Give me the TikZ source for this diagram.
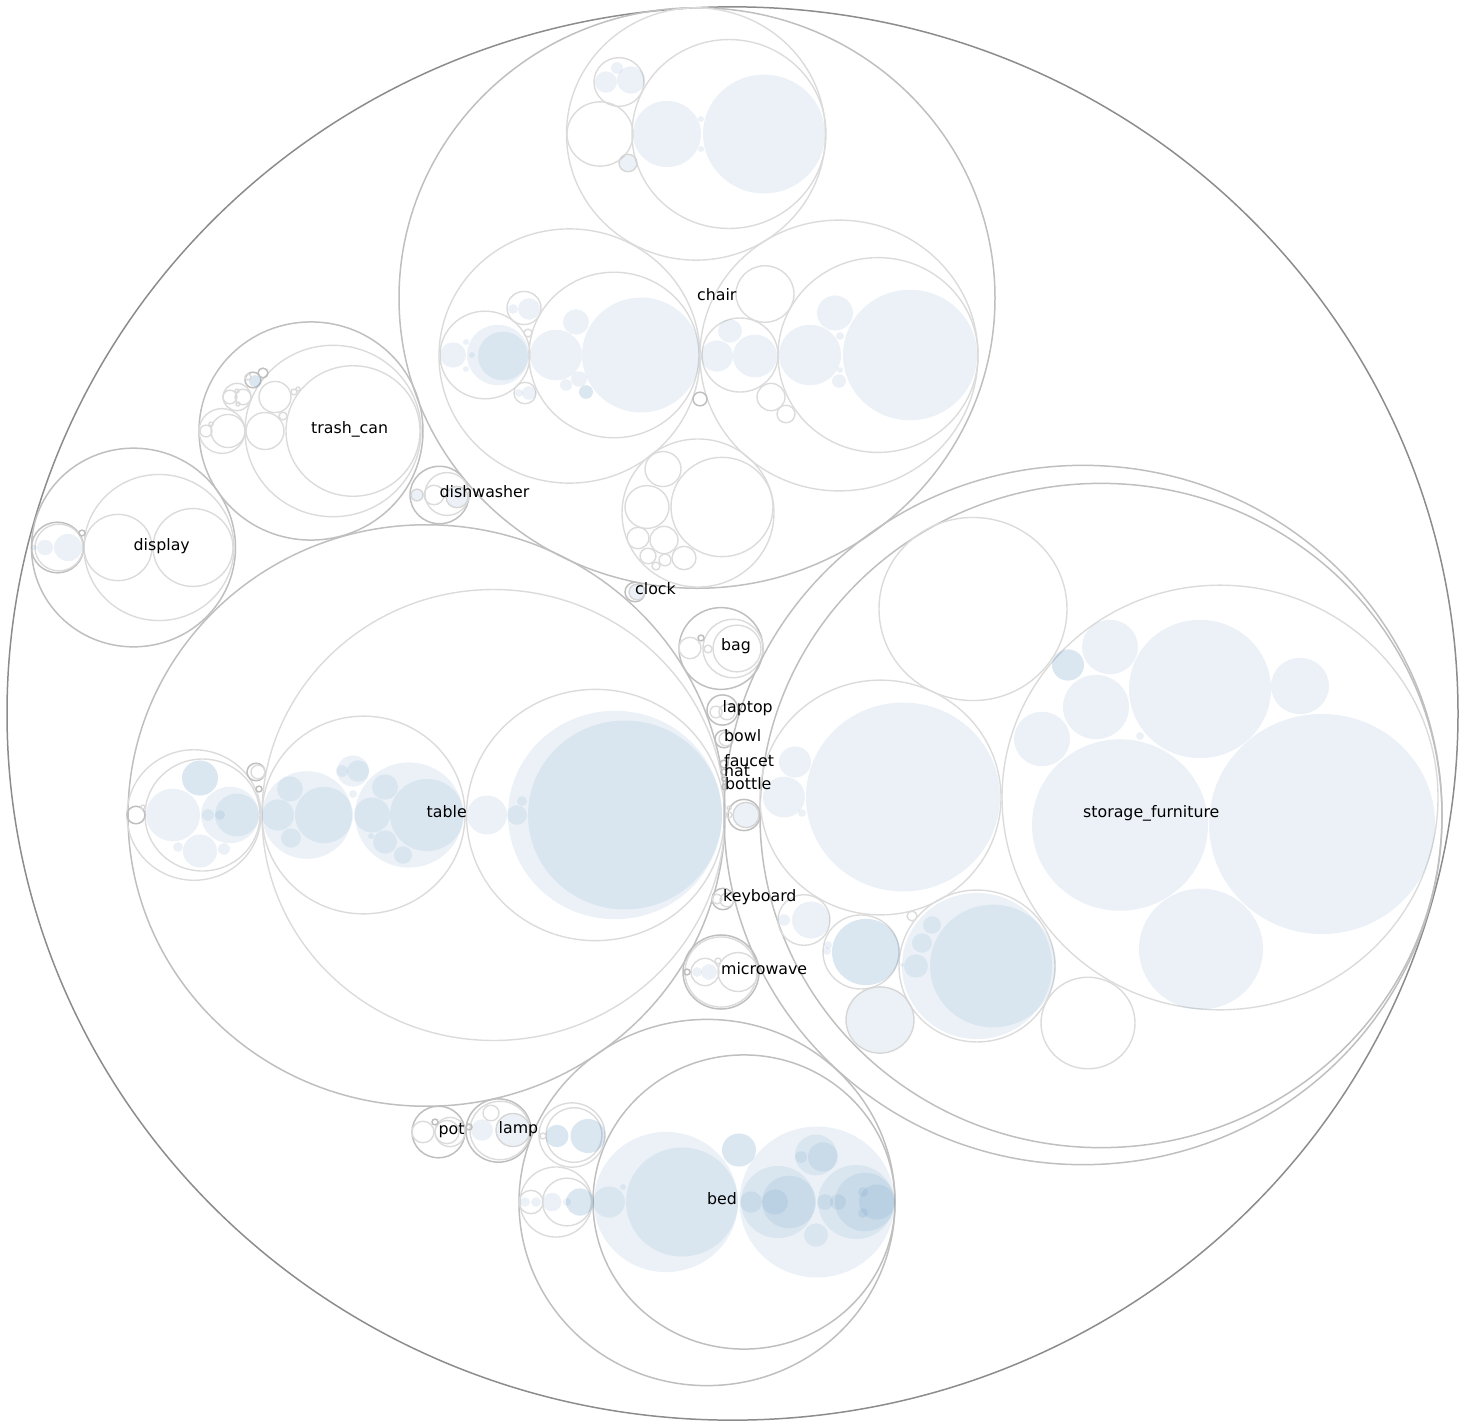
\documentclass[tikz,border=0pt]{standalone}
\usepackage{fontspec}
\setmainfont{DejaVu Sans}
\usepackage{tikz}
\definecolor{azulhoja}{RGB}{70,130,180}
\pgfdeclarelayer{circulos}
\pgfsetlayers{circulos,main}
\tikzstyle{raiz}=[draw=black!45,line width=1.5pt]
\tikzstyle{categoria}=[draw=black!25,line width=1.5pt]
\tikzstyle{nivel}=[draw=black!14,line width=1.4pt]
\tikzstyle{hoja}=[fill=azulhoja,fill opacity=0.11]
\tikzstyle{hojaoscura}=[fill=azulhoja,fill opacity=0.2]
\tikzstyle{hojaborde}=[fill=azulhoja,fill opacity=0.11,draw=black!16,line width=1.4pt]
\tikzstyle{etiqueta}=[anchor=base west,inner sep=0pt,font=\fontsize{15.8}{18}\selectfont,text=black]
\newcommand{\circulo}[4][nivel]{\path[style=#1] (#2,#3) ellipse [x radius=#4, y radius={0.974*#4}];}

\begin{document}
\begin{tikzpicture}[x={(1pt,0)},y={(0,-1pt)}]
		\useasboundingbox (0,0) rectangle (1465,1427);
		\begin{pgfonlayer}{circulos}
			\circulo[raiz]{732.5}{713.5}{725.5}
			\circulo[categoria]{697}{298}{298}
			\circulo{696}{134}{129.5}
			\circulo{729}{134}{97}
			\circulo[hoja]{764}{134}{61}
			\circulo[hoja]{667}{134}{34}
			\circulo[hoja]{701}{119}{3}
			\circulo[hoja]{701}{149}{3}
			\circulo{619}{82}{25}
			\circulo[hoja]{606}{82}{11}
			\circulo[hoja]{631}{80}{14}
			\circulo[hoja]{617}{68}{6}
			\circulo{600}{134}{33}
			\circulo[hojaborde]{628}{163}{9}
			\circulo{569.5}{356}{130.5}
			\circulo{614}{355}{85}
			\circulo[hoja]{641}{355}{59}
			\circulo[hoja]{556}{355}{26}
			\circulo[hoja]{576}{322}{13}
			\circulo[hojaoscura]{586}{392}{7}
			\circulo[hoja]{566}{385}{6}
			\circulo[hoja]{579}{379}{8}
			\circulo{485}{355}{45}
			\circulo[hoja]{498}{355}{31}
			\circulo[hoja]{503}{356}{25}
			\circulo[hoja]{453}{355}{13}
			\circulo[hoja]{466}{342}{3}
			\circulo[hoja]{466}{369}{3}
			\circulo[hoja]{472}{355}{3}
			\circulo{524}{308}{17}
			\circulo[hoja]{529}{309}{11}
			\circulo[hoja]{513}{309}{5}
			\circulo{528}{333}{4}
			\circulo{525}{393}{11}
			\circulo[hoja]{529}{393}{7}
			\circulo[hoja]{519}{393}{4}
			\circulo{839}{355.5}{139}
			\circulo{878}{355}{100}
			\circulo[hoja]{910}{355}{67}
			\circulo[hoja]{810}{355}{31}
			\circulo[hoja]{835}{313}{18}
			\circulo[hoja]{840}{336}{4}
			\circulo[hoja]{839}{381}{7}
			\circulo[hoja]{840}{370}{3}
			\circulo{740}{355}{38}
			\circulo[hoja]{755}{356}{22}
			\circulo[hoja]{717}{356}{16}
			\circulo[hoja]{730}{331}{12}
			\circulo{765}{294}{29}
			\circulo{771}{397}{14}
			\circulo{786}{414}{9}
			\circulo[categoria]{700}{399}{7}
			\circulo{698}{513}{76}
			\circulo{722}{507}{51}
			\circulo{663}{469}{18}
			\circulo{647}{507}{22}
			\circulo{638}{538}{11}
			\circulo{664}{540}{14}
			\circulo{684}{558}{12}
			\circulo{648}{556}{8}
			\circulo{665}{560}{6}
			\circulo{656}{566}{4}
			\circulo[categoria]{635}{592}{10}
			\circulo[hojaborde]{637}{592}{8}
			\circulo[categoria]{311}{431}{112}
			\circulo{333}{431}{88}
			\circulo{353}{431}{67}
			\circulo{265}{431}{19}
			\circulo{275}{397}{16}
			\circulo{283}{416}{4}
			\circulo{294}{392}{3}
			\circulo{298}{389}{2}
			\circulo{222}{431}{23}
			\circulo{228}{431}{17}
			\circulo{206}{431}{6}
			\circulo{211}{424}{2}
			\circulo{237}{397}{14}
			\circulo{230}{397}{7}
			\circulo{243}{397}{8}
			\circulo{237}{391}{2}
			\circulo{238}{404}{2}
			\circulo[categoria]{253}{380}{8}
			\circulo[hojaoscura]{255}{381}{6}
			\circulo{248}{377}{3}
			\circulo[categoria]{263}{373}{5}
			\circulo[categoria]{133.5}{547.5}{102}
			\circulo{159}{547.5}{75}
			\circulo{118}{547.5}{34}
			\circulo{193}{547.5}{40}
			\circulo[categoria]{57.5}{547.5}{26}
			\circulo{59}{547.5}{24}
			\circulo[hoja]{68}{547.5}{14}
			\circulo[hoja]{45}{547.5}{8}
			\circulo[hoja]{34}{547.5}{3}
			\circulo[categoria]{82}{533}{3}
			\circulo[categoria]{439.5}{495}{29.5}
			\circulo{447}{494}{22}
			\circulo{434}{495}{10}
			\circulo[hojaborde]{457}{497}{11}
			\circulo[hojaborde]{417}{495}{6}
			\circulo[categoria]{426.5}{815.5}{298.5}
			\circulo{493.5}{815}{231.5}
			\circulo{595.5}{815}{129}
			\circulo[hoja]{615}{815}{107}
			\circulo[hoja]{625}{815}{97}
			\circulo[hoja]{487}{815}{20}
			\circulo[hoja]{517}{815}{10}
			\circulo[hoja]{522}{801}{5}
			\circulo{363.5}{815}{101.5}
			\circulo[hoja]{307}{815}{45}
			\circulo[hoja]{324}{815}{29}
			\circulo[hoja]{290}{789}{13}
			\circulo[hoja]{278}{815}{16}
			\circulo[hoja]{291}{838}{10}
			\circulo[hoja]{409}{815}{54}
			\circulo[hoja]{427}{815}{37}
			\circulo[hoja]{385}{787}{13}
			\circulo[hoja]{372}{815}{18}
			\circulo[hoja]{385}{842}{12}
			\circulo[hoja]{403}{855}{9}
			\circulo[hoja]{371}{836}{3}
			\circulo[hoja]{353}{771}{16}
			\circulo[hoja]{358}{771}{11}
			\circulo[hoja]{342}{771}{6}
			\circulo[hoja]{353}{794}{4}
			\circulo{194}{815}{67}
			\circulo{202.5}{815}{57.5}
			\circulo[hoja]{173}{815}{27}
			\circulo[hojaoscura]{200}{778}{18}
			\circulo[hoja]{230}{815}{29}
			\circulo[hoja]{237}{815}{22}
			\circulo[hoja]{208}{815}{6}
			\circulo[hoja]{200}{851}{17}
			\circulo[hoja]{178}{847}{5}
			\circulo[hoja]{224}{849}{6}
			\circulo[hoja]{220}{815}{5}
			\circulo[categoria]{136}{815}{9}
			\circulo{143}{807}{2}
			\circulo[categoria]{256}{772}{9}
			\circulo{258}{772}{7}
			\circulo[categoria]{259}{789}{3}
			\circulo[categoria]{721}{648.5}{42}
			\circulo{733}{648.5}{30}
			\circulo{737}{648.5}{24}
			\circulo{690}{648}{11}
			\circulo[categoria]{701}{638}{3}
			\circulo{708}{649}{4}
			\circulo[categoria]{722.5}{710}{15.5}
			\circulo{716}{712}{6}
			\circulo{727}{712}{8}
			\circulo[categoria]{724}{739}{9}
			\circulo{726}{739}{7}
			\circulo[categoria]{724}{764}{4}
			\circulo[categoria]{724}{772}{3}
			\circulo[categoria]{724}{779}{2}
			\circulo[categoria]{725}{787}{3}
			\circulo[categoria]{744}{815}{16}
			\circulo[hojaborde]{746}{815}{13}
			\circulo{729}{815}{3}
			\circulo{729}{808}{2}
			\circulo[categoria]{723}{899}{11}
			\circulo{717}{899}{5}
			\circulo{727}{900}{7}
			\circulo[categoria]{721}{972}{38}
			\circulo{721}{972}{36}
			\circulo{738}{972}{20}
			\circulo{705}{972}{14}
			\circulo[hoja]{709}{972}{8}
			\circulo[hoja]{697}{972}{5}
			\circulo[categoria]{687}{972}{3}
			\circulo{718}{961}{3}
			\circulo[categoria]{438.5}{1132}{26.5}
			\circulo{423}{1132}{11}
			\circulo{450}{1132}{15}
			\circulo{447}{1132}{12}
			\circulo[categoria]{435}{1122}{3}
			\circulo[categoria]{498.5}{1130.5}{32.5}
			\circulo{500}{1130.5}{30}
			\circulo[hojaborde]{513}{1130}{17}
			\circulo[hoja]{482}{1130}{11}
			\circulo{491}{1113}{8}
			\circulo[categoria]{469}{1127}{3}
			\circulo[categoria]{707}{1202.5}{188}
			\circulo[categoria]{744}{1202}{151}
			\circulo[hoja]{666}{1202}{72}
			\circulo[hoja]{682}{1202}{56}
			\circulo[hoja]{817}{1202}{77.5}
			\circulo[hoja]{778}{1202}{37}
			\circulo[hoja]{789}{1202}{27}
			\circulo[hoja]{775}{1202}{13}
			\circulo[hoja]{751}{1202}{11}
			\circulo[hoja]{816}{1155}{21}
			\circulo[hoja]{823}{1157}{15}
			\circulo[hoja]{801}{1157}{6}
			\circulo[hoja]{816}{1235}{12}
			\circulo[hoja]{856}{1202}{38}
			\circulo[hoja]{865}{1202}{30}
			\circulo[hoja]{877}{1202}{18}
			\circulo[hoja]{863}{1192}{5}
			\circulo[hoja]{863}{1213}{5}
			\circulo[hoja]{838}{1202}{8}
			\circulo[hoja]{825}{1202}{8}
			\circulo[hojaoscura]{739}{1150}{17}
			\circulo{572}{1135}{33}
			\circulo{574}{1135}{28}
			\circulo[hojaoscura]{588}{1136}{17.5}
			\circulo[hojaoscura]{557}{1136}{11.5}
			\circulo{543}{1136}{3}
			\circulo{556}{1202}{36}
			\circulo{567}{1202}{24.5}
			\circulo[hojaoscura]{580}{1202}{14}
			\circulo[hoja]{552}{1202}{9.5}
			\circulo[hoja]{567}{1202}{4}
			\circulo{531}{1202}{12}
			\circulo[hoja]{525}{1202}{5}
			\circulo[hoja]{536}{1202}{5}
			\circulo[hoja]{609}{1202}{16}
			\circulo[hoja]{623}{1187}{3}
			\circulo[categoria]{1083}{815}{359}
			\circulo[categoria]{1101}{815.5}{341}
			\circulo{1220}{797.5}{218}
			\circulo[hoja]{1322}{824}{113}
			\circulo[hoja]{1120}{825}{88}
			\circulo[hoja]{1200}{689}{71}
			\circulo[hoja]{1201}{949}{62}
			\circulo[hoja]{1300}{686}{29}
			\circulo[hoja]{1110}{647}{28}
			\circulo[hoja]{1096}{707}{33}
			\circulo[hoja]{1042}{739}{28}
			\circulo[hojaoscura]{1068}{665}{16}
			\circulo[hoja]{1140}{736}{4}
			\circulo{973}{609}{94}
			\circulo{880.5}{797.5}{120.5}
			\circulo[hoja]{903}{797}{97}
			\circulo[hoja]{784}{797}{21}
			\circulo[hoja]{795}{762}{16}
			\circulo[hoja]{802}{813}{4}
			\circulo{977}{966}{78}
			\circulo[hoja]{977}{966}{75}
			\circulo[hoja]{993}{966}{63}
			\circulo[hoja]{932}{925}{9}
			\circulo[hoja]{922}{943}{10}
			\circulo[hoja]{916}{966}{12}
			\circulo[hoja]{902}{965}{2}
			\circulo{912}{916}{5}
			\circulo{861}{952}{38}
			\circulo[hojaoscura]{866}{952}{34}
			\circulo[hoja]{828}{945}{4}
			\circulo[hoja]{827}{951}{4}
			\circulo{804}{920}{26}
			\circulo[hoja]{811}{920}{19}
			\circulo[hoja]{784}{920}{6}
			\circulo[hojaborde]{880}{1020}{34}
			\circulo{1088}{1023}{47}
		\end{pgfonlayer}
		\node [style=etiqueta] (chair) at (697,300) {chair};
		\node [style=etiqueta] (storage_furniture) at (1083,817) {storage\_furniture};
		\node [style=etiqueta] (table) at (426.5,817) {table};
		\node [style=etiqueta] (display) at (133.5,550) {display};
		\node [style=etiqueta] (trash_can) at (311,433) {trash\_can};
		\node [style=etiqueta] (dishwasher) at (439.5,497) {dishwasher};
		\node [style=etiqueta] (clock) at (635,594) {clock};
		\node [style=etiqueta] (bag) at (721,650) {bag};
		\node [style=etiqueta] (laptop) at (722.5,712) {laptop};
		\node [style=etiqueta] (bowl) at (724,741) {bowl};
		\node [style=etiqueta] (faucet) at (724,766) {faucet};
		\node [style=etiqueta] (hat) at (724,776) {hat};
		\node [style=etiqueta] (bottle) at (725,789) {bottle};
		\node [style=etiqueta] (keyboard) at (723,901) {keyboard};
		\node [style=etiqueta] (microwave) at (721,974) {microwave};
		\node [style=etiqueta] (pot) at (438.5,1134) {pot};
		\node [style=etiqueta] (lamp) at (498.5,1133) {lamp};
		\node [style=etiqueta] (bed) at (707,1204) {bed};
\end{tikzpicture}
\end{document}
